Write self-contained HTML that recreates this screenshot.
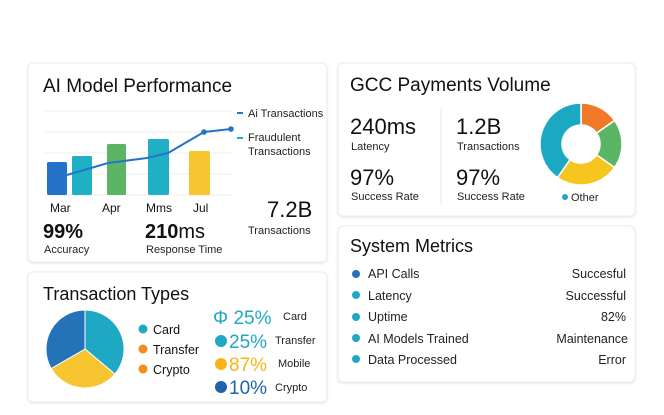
<!DOCTYPE html>
<html><head><meta charset="utf-8"><style>
html,body{margin:0;padding:0;background:#fff;}
svg{display:block;font-family:"Liberation Sans",sans-serif;}
</style></head><body>
<svg width="664" height="415" viewBox="0 0 664 415" xmlns="http://www.w3.org/2000/svg">
<defs><filter id="sh" x="-5%" y="-5%" width="110%" height="115%"><feDropShadow dx="0" dy="1" stdDeviation="1.2" flood-color="#000" flood-opacity="0.10"/></filter></defs>
<rect width="664" height="415" fill="#fff"/>
<!-- cards -->
<rect x="28" y="63" width="299" height="199" rx="5" fill="#fff" stroke="#ececec" filter="url(#sh)"/>
<rect x="338" y="63" width="297" height="153" rx="5" fill="#fff" stroke="#ececec" filter="url(#sh)"/>
<rect x="28" y="272" width="299" height="130" rx="5" fill="#fff" stroke="#ececec" filter="url(#sh)"/>
<rect x="338" y="226" width="297" height="156" rx="5" fill="#fff" stroke="#ececec" filter="url(#sh)"/>

<!-- card1 -->
<text x="43" y="92" font-size="19" fill="#111">AI Model Performance</text>
<g stroke="#eeeeee" stroke-width="1">
<line x1="45" y1="111" x2="232" y2="111"/><line x1="45" y1="132" x2="232" y2="132"/>
<line x1="45" y1="153" x2="232" y2="153"/><line x1="45" y1="174" x2="232" y2="174"/>
<line x1="45" y1="195" x2="232" y2="195"/></g>
<rect x="47" y="162" width="20" height="33" rx="1.5" fill="#2473c9"/>
<rect x="72" y="156" width="20" height="39" rx="1.5" fill="#1fb0c6"/>
<rect x="107" y="144" width="19" height="51" rx="1.5" fill="#5bb565"/>
<rect x="148" y="139" width="21" height="56" rx="1.5" fill="#1fb0c6"/>
<rect x="189" y="151" width="21" height="44" rx="1.5" fill="#f7c530"/>
<polyline points="67,175 108,163 147,158 168,153 204,132 231,129" fill="none" stroke="#2575c4" stroke-width="2"/>
<circle cx="204" cy="132" r="2.8" fill="#2575c4"/><circle cx="231" cy="129" r="2.8" fill="#2575c4"/>
<line x1="237" y1="113" x2="243" y2="113" stroke="#2575c4" stroke-width="2"/>
<text x="248" y="117" font-size="11" fill="#222">Ai Transactions</text>
<line x1="237" y1="138" x2="243" y2="138" stroke="#1fb0c6" stroke-width="2"/>
<text x="248" y="141" font-size="11" fill="#222">Fraudulent</text>
<text x="248" y="155" font-size="11" fill="#222">Transactions</text>
<g font-size="12" fill="#111"><text x="50" y="212">Mar</text><text x="102" y="212">Apr</text><text x="146" y="212">Mms</text><text x="193" y="212">Jul</text></g>
<text x="43" y="238" font-size="20" font-weight="bold" fill="#111">99%</text>
<text x="44" y="253" font-size="11" fill="#222">Accuracy</text>
<text x="145" y="238" font-size="20" font-weight="bold" fill="#111">210<tspan font-weight="normal">ms</tspan></text>
<text x="146" y="253" font-size="11" fill="#222">Response Time</text>
<text x="267" y="217" font-size="22" fill="#111">7.2B</text>
<text x="248" y="234" font-size="11" fill="#222">Transactions</text>

<!-- card2 -->
<text x="350" y="91" font-size="19" fill="#111">GCC Payments Volume</text>
<text x="350" y="134" font-size="22" fill="#111">240ms</text>
<text x="351" y="150" font-size="11" fill="#222">Latency</text>
<text x="350" y="185" font-size="22" fill="#111">97%</text>
<text x="351" y="200" font-size="11" fill="#222">Success Rate</text>
<line x1="441" y1="108" x2="441" y2="205" stroke="#e8e8e8"/>
<text x="456" y="134" font-size="22" fill="#111">1.2B</text>
<text x="457" y="150" font-size="11" fill="#222">Transactions</text>
<text x="456" y="185" font-size="22" fill="#111">97%</text>
<text x="457" y="200" font-size="11" fill="#222">Success Rate</text>
<g transform="translate(581,144)" stroke="#fff" stroke-width="1.5">
<path d="M0,-41 A41,41 0 0 1 33.6,-23.5 L15.6,-10.9 A19,19 0 0 0 0,-19Z" fill="#f07a2a"/>
<path d="M33.6,-23.5 A41,41 0 0 1 33.6,23.5 L15.6,10.9 A19,19 0 0 0 15.6,-10.9Z" fill="#5bb565"/>
<path d="M33.6,23.5 A41,41 0 0 1 -23.5,33.6 L-10.9,15.6 A19,19 0 0 0 15.6,10.9Z" fill="#f7c520"/>
<path d="M-23.5,33.6 A41,41 0 0 1 0,-41 L0,-19 A19,19 0 0 0 -10.9,15.6Z" fill="#1aa8c2"/>
</g>
<circle cx="565" cy="197" r="3" fill="#1aa8c2"/>
<text x="571" y="201" font-size="11" fill="#222">Other</text>

<!-- card3 -->
<text x="43" y="300" font-size="18" fill="#111">Transaction Types</text>
<g transform="translate(85,349)" stroke="#fff" stroke-width="1">
<path d="M0,0 L0,-39 A39,39 0 0 1 29.9,25.1Z" fill="#1fa8c3"/>
<path d="M0,0 L29.9,25.1 A39,39 0 0 1 -33.8,19.5Z" fill="#f7c530"/>
<path d="M0,0 L-33.8,19.5 A39,39 0 0 1 0,-39Z" fill="#2472b8"/>
</g>
<circle cx="143" cy="329" r="4.5" fill="#1fa8c3"/><text x="153" y="334" font-size="12.5" fill="#111">Card</text>
<circle cx="143" cy="349" r="4.5" fill="#f48b1a"/><text x="153" y="354" font-size="12.5" fill="#111">Transfer</text>
<circle cx="143" cy="369" r="4.5" fill="#f48b1a"/><text x="153" y="374" font-size="12.5" fill="#111">Crypto</text>
<text x="213" y="324" font-size="19" fill="#1fa8c3">Φ 25%</text>
<circle cx="221" cy="341" r="6" fill="#1fa8c3"/><text x="229" y="348" font-size="19" fill="#1fa8c3">25%</text>
<circle cx="221" cy="364" r="6" fill="#f7b51a"/><text x="229" y="371" font-size="19" fill="#f7b51a">87%</text>
<circle cx="221" cy="387" r="6" fill="#1f63a8"/><text x="229" y="394" font-size="19" fill="#1f63a8">10%</text>
<g font-size="11" fill="#222"><text x="283" y="320">Card</text><text x="275" y="344">Transfer</text><text x="278" y="367">Mobile</text><text x="275" y="391">Crypto</text></g>

<!-- card4 -->
<text x="350" y="252" font-size="18" fill="#111">System Metrics</text>
<g font-size="12.5" fill="#222">
<circle cx="356" cy="274" r="4" fill="#2473b9"/><text x="368" y="278">API Calls</text><text x="626" y="278" text-anchor="end">Succesful</text>
<circle cx="356" cy="295" r="4" fill="#1fa8c3"/><text x="368" y="300">Latency</text><text x="626" y="300" text-anchor="end">Successful</text>
<circle cx="356" cy="317" r="4" fill="#1fa8c3"/><text x="368" y="321">Uptime</text><text x="626" y="321" text-anchor="end">82%</text>
<circle cx="356" cy="338" r="4" fill="#1fa8c3"/><text x="368" y="343">AI Models Trained</text><text x="628" y="343" text-anchor="end">Maintenance</text>
<circle cx="356" cy="359" r="4" fill="#1fa8c3"/><text x="368" y="364">Data Processed</text><text x="626" y="364" text-anchor="end">Error</text>
</g>
</svg>
</body></html>
